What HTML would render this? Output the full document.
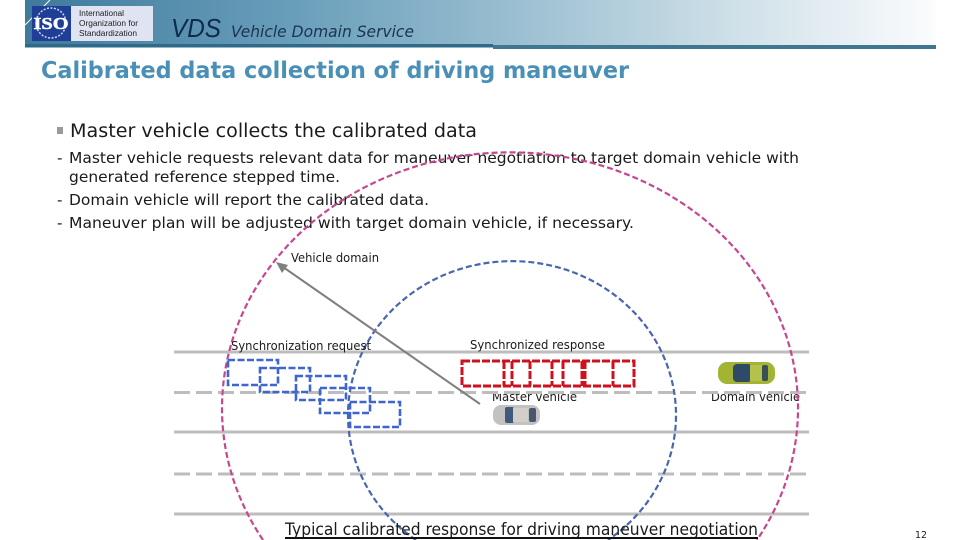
<!DOCTYPE html>
<html><head><meta charset="utf-8"><style>
html,body{margin:0;padding:0;background:#fff;width:960px;height:540px;overflow:hidden}
svg{display:block}
text{font-family:"DejaVu Sans","Liberation Sans",sans-serif;fill:#1a1a1a}
</style></head><body>
<svg width="960" height="540" viewBox="0 0 960 540" xmlns="http://www.w3.org/2000/svg">
<defs>
<linearGradient id="hd" x1="0" y1="0" x2="1" y2="0">
<stop offset="0" stop-color="#3f7a9c"/><stop offset=".3" stop-color="#6a9fbb"/><stop offset=".55" stop-color="#9dc0d2"/><stop offset=".78" stop-color="#cfe0e8"/><stop offset="1" stop-color="#fbfcfd"/>
</linearGradient>
</defs>
<rect x="25" y="0" width="911" height="45" fill="url(#hd)"/>
<rect x="25" y="44" width="468" height="3.500" fill="#2f6a88"/>
<rect x="493" y="45" width="443" height="4" fill="#3f7690"/>
<path d="M25 25L50 0" stroke="#fff" stroke-width="1" fill="none"/>
<rect x="32" y="6" width="39" height="35" fill="#1f3f96"/>
<rect x="71" y="6" width="82" height="35" fill="#dfe3f2"/>
<ellipse cx="51" cy="23" rx="15" ry="15" fill="none" stroke="#cfd6ee" stroke-width="1.500" stroke-dasharray="2 1.500"/>
<text x="51" y="29" font-size="17" font-weight="bold" text-anchor="middle" textLength="35" lengthAdjust="spacingAndGlyphs" style="font-family:'Liberation Serif',serif;fill:#fff;stroke:#fff;stroke-width:.5">ISO</text>
<text x="79" y="16" font-size="8" textLength="45" lengthAdjust="spacingAndGlyphs" style="font-family:'Liberation Sans',sans-serif;fill:#222">International</text>
<text x="79" y="26" font-size="8" textLength="59" lengthAdjust="spacingAndGlyphs" style="font-family:'Liberation Sans',sans-serif;fill:#222">Organization for</text>
<text x="79" y="36" font-size="8" textLength="58" lengthAdjust="spacingAndGlyphs" style="font-family:'Liberation Sans',sans-serif;fill:#222">Standardization</text>
<text x="171" y="37" font-size="26" font-style="italic" textLength="50" lengthAdjust="spacingAndGlyphs" style="font-family:'Liberation Sans',sans-serif;fill:#0f2a4a">VDS</text>
<text x="231" y="37" font-size="16" font-style="italic" textLength="183" lengthAdjust="spacingAndGlyphs" style="fill:#1a3550">Vehicle Domain Service</text>
<text x="41" y="78" font-size="23" font-weight="bold" textLength="588" lengthAdjust="spacingAndGlyphs" style="fill:#4a8fb5">Calibrated data collection of driving maneuver</text>
<rect x="57" y="127" width="6" height="7" fill="#9a9a9a"/>
<text x="70" y="137" font-size="18.500" textLength="407" lengthAdjust="spacingAndGlyphs">Master vehicle collects the calibrated data</text>
<g font-size="15">
<text x="57" y="163">-</text>
<text x="69" y="163" textLength="730" lengthAdjust="spacingAndGlyphs">Master vehicle requests relevant data for maneuver negotiation to target domain vehicle with</text>
<text x="69" y="182" textLength="271" lengthAdjust="spacingAndGlyphs">generated reference stepped time.</text>
<text x="57" y="205">-</text>
<text x="69" y="205" textLength="360" lengthAdjust="spacingAndGlyphs">Domain vehicle will report the calibrated data.</text>
<text x="57" y="228">-</text>
<text x="69" y="228" textLength="565" lengthAdjust="spacingAndGlyphs">Maneuver plan will be adjusted with target domain vehicle, if necessary.</text>
</g>
<g font-size="12.500">
<text x="492" y="401" textLength="85" lengthAdjust="spacingAndGlyphs">Master vehicle</text>
<text x="711" y="401" textLength="89" lengthAdjust="spacingAndGlyphs">Domain vehicle</text>
</g>
<rect x="490" y="389" width="90" height="5" fill="#fff"/>
<rect x="709" y="389" width="93" height="3" fill="#fff"/>
<g stroke="#bdbdbd" stroke-width="3" fill="none">
<path d="M174 352H809M174 432H809M174 514H809"/>
<path d="M174 392.500H809M174 474H809" stroke-dasharray="16 6"/>
</g>
<path d="M263 540A288 256 0 1 1 757 540" fill="none" stroke="#c8468f" stroke-width="2.200" stroke-dasharray="6 3"/>
<path d="M416 540A164 154 0 1 1 608 540" fill="none" stroke="#4a66b0" stroke-width="2.200" stroke-dasharray="6 3"/>
<path d="M480 404L283 267" stroke="#7f7f7f" stroke-width="2" fill="none"/>
<path d="M276 262L288 265L282 273Z" fill="#7f7f7f"/>
<g font-size="12.500">
<text x="291" y="262" textLength="88" lengthAdjust="spacingAndGlyphs">Vehicle domain</text>
<text x="231" y="350" textLength="140" lengthAdjust="spacingAndGlyphs">Synchronization request</text>
<text x="470" y="349" textLength="135" lengthAdjust="spacingAndGlyphs">Synchronized response</text>
</g>
<g fill="none" stroke="#3f66d0" stroke-width="2.600" stroke-dasharray="7 2.500">
<rect x="228" y="360" width="50" height="25"/>
<rect x="260" y="368" width="50" height="24"/>
<rect x="296" y="376" width="50" height="24"/>
<rect x="320" y="388" width="50" height="25"/>
<rect x="350" y="402" width="50" height="25"/>
</g>
<g fill="none" stroke="#d0101c" stroke-width="3" stroke-dasharray="8 2">
<rect x="462" y="361" width="172" height="25"/>
<path d="M504 361V386M512 361V386M530 361V386M552 361V386M563 361V386M582 361V386M585 361V386M613 361V386"/>
</g>
<g>
<rect x="718" y="362" width="57" height="22" rx="9" fill="#a3b435"/>
<rect x="733" y="364" width="19" height="18" rx="4" fill="#2f4a68"/>
<rect x="750" y="365" width="12" height="16" fill="#b4c24a"/>
<rect x="762" y="365" width="6" height="16" rx="2" fill="#3a4f55"/>
<rect x="493" y="405" width="47" height="20" rx="8" fill="#c2c2c2"/>
<rect x="505" y="407" width="9" height="16" rx="2" fill="#3f5a7c"/>
<rect x="513" y="408" width="15" height="14" fill="#d2cfca"/>
<rect x="529" y="408" width="7" height="14" rx="2" fill="#48586a"/>
</g>
<text x="285" y="535" font-size="16.500" textLength="473" lengthAdjust="spacingAndGlyphs">Typical calibrated response for driving maneuver negotiation</text>
<rect x="285" y="537" width="473" height="2" fill="#111"/>
<text x="915" y="538" font-size="10" textLength="12" lengthAdjust="spacingAndGlyphs">12</text>
</svg>
</body></html>
